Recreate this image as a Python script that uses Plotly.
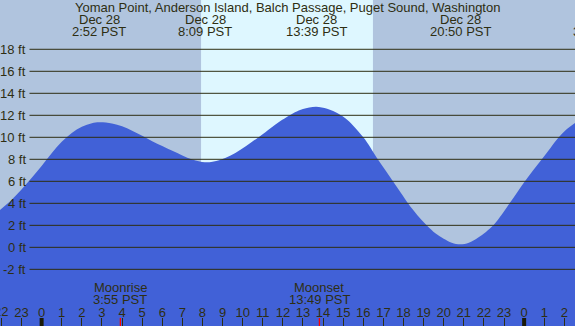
import plotly.graph_objects as go

# ---- data (hours relative to Dec 28 00:00 PST) ----
tide_hours = [-2.07, -1.5, -1.0, -0.5, 0.0, 0.5, 1.0, 1.5, 2.0, 2.5, 2.87, 3.5, 4.0, 4.5,
              5.05, 5.5, 6.0, 6.5, 7.0, 7.5, 8.12, 8.5, 8.87, 9.4, 9.87, 10.4, 10.86,
              11.4, 11.86, 12.3, 12.6, 13.0, 13.65, 14.2, 14.6, 15.09, 15.5, 16.0, 16.33,
              16.67, 17.1, 17.49, 17.9, 18.24, 18.7, 19.15, 19.6, 20.0, 20.4, 20.83,
              21.25, 21.7, 22.1, 22.47, 22.9, 23.26, 23.65, 24.04, 24.45, 24.88, 25.3,
              25.7, 26.1, 26.53]
tide_ft = [3.4, 4.3, 5.25, 6.3, 7.4, 8.55, 9.6, 10.4, 10.95, 11.27, 11.36, 11.25, 11.0, 10.6,
           10.1, 9.65, 9.2, 8.77, 8.35, 7.98, 7.73, 7.78, 7.94, 8.35, 8.85, 9.5, 10.1,
           10.85, 11.45, 11.95, 12.28, 12.58, 12.78, 12.6, 12.3, 11.75, 11.05, 10.0, 9.15,
           8.15, 7.0, 5.97, 4.87, 3.95, 2.9, 2.0, 1.25, 0.78, 0.42, 0.27,
           0.42, 0.88, 1.4, 2.0, 3.0, 3.95, 4.98, 6.0, 7.0, 8.0, 9.0,
           9.95, 10.7, 11.3]

extreme_hours = [2.867, 8.15, 13.65, 20.833, 27.75]
extreme_dates = ["Dec 28", "Dec 28", "Dec 28", "Dec 28", "Dec 29"]
extreme_times = ["2:52 PST", "8:09 PST", "13:39 PST", "20:50 PST", "3:45 PST"]

moon_hours = [3.917, 13.817]
moon_events = ["Moonrise", "Moonset"]
moon_times = ["3:55 PST", "13:49 PST"]

sunrise_hour = 7.93
sunset_hour = 16.48

midnight_hours = [0, 24]
hour_ticks = list(range(-2, 27))
hour_labels = [str(h % 24) for h in hour_ticks]
ft_ticks = [-2, 0, 2, 4, 6, 8, 10, 12, 14, 16, 18]
ft_labels = [f"{v} ft" for v in ft_ticks]

title = "Yoman Point, Anderson Island, Balch Passage, Puget Sound, Washington"

# ---- style ----
NIGHT = "#B0C4DE"
DAY = "#DEF7FF"
WATER = "#4161D7"
INK = "#2E2E12"
FONT = "Liberation Sans"
XR = [-2.07, 26.53]
YR = [-7.15, 22.48]
H = 326.0
fs = 13


def xfrac(h):
    return (h - XR[0]) / (XR[1] - XR[0])


fig = go.Figure()
fig.add_trace(go.Scatter(x=tide_hours, y=[YR[0] - 5] * len(tide_hours), mode="lines",
                         line=dict(width=0, color=WATER), hoverinfo="skip", showlegend=False))
fig.add_trace(go.Scatter(x=tide_hours, y=tide_ft, mode="lines",
                         line=dict(width=0, color=WATER, shape="spline", smoothing=1.0),
                         fill="tonexty", fillcolor=WATER, showlegend=False))

shapes = []
shapes.append(dict(type="rect", xref="x", yref="paper", x0=sunrise_hour, x1=sunset_hour, y0=0, y1=1,
                   fillcolor=DAY, line=dict(width=0), layer="below"))
for v in ft_ticks:
    shapes.append(dict(type="line", xref="paper", yref="y", x0=29.5 / 575, x1=1, y0=v, y1=v,
                       line=dict(color=INK, width=1), layer="above"))
for m in midnight_hours:
    shapes.append(dict(type="line", xref="x", yref="paper", x0=m, x1=m, y0=0, y1=8 / H,
                       line=dict(color="#1a1a08", width=4), layer="above"))
for m in moon_hours:
    shapes.append(dict(type="line", xref="x", yref="paper", x0=m, x1=m, y0=0, y1=8 / H,
                       line=dict(color="#FF0000", width=1.3), layer="above"))

ann = []
ann.append(dict(text=title, xref="paper", yref="paper", x=287 / 575, y=1 - 7.5 / H, showarrow=False,
                font=dict(family=FONT, size=fs, color=INK), xanchor="center", yanchor="middle"))
for hx, d, t in zip(extreme_hours, extreme_dates, extreme_times):
    ann.append(dict(text=d, xref="paper", yref="paper", x=xfrac(hx), y=1 - 19.5 / H, showarrow=False,
                    font=dict(family=FONT, size=fs, color=INK), xanchor="center", yanchor="middle"))
    ann.append(dict(text=t, xref="paper", yref="paper", x=xfrac(hx), y=1 - 31.5 / H, showarrow=False,
                    font=dict(family=FONT, size=fs, color=INK), xanchor="center", yanchor="middle"))
for v, lab in zip(ft_ticks, ft_labels):
    ann.append(dict(text=lab, xref="paper", yref="y", x=27.5 / 575, y=v, showarrow=False,
                    font=dict(family=FONT, size=fs, color=INK), xanchor="right", yanchor="middle"))
for hx, e, t in zip(moon_hours, moon_events, moon_times):
    ann.append(dict(text=e, xref="x", yref="paper", x=hx, y=1 - 287.5 / H, showarrow=False,
                    font=dict(family=FONT, size=fs, color=INK), xanchor="center", yanchor="middle"))
    ann.append(dict(text=t, xref="x", yref="paper", x=hx, y=1 - 299.5 / H, showarrow=False,
                    font=dict(family=FONT, size=fs, color=INK), xanchor="center", yanchor="middle"))
# first hour label, cut by the left edge (plotly hides clipped inside tick labels)
ann.append(dict(text=hour_labels[0], xref="x", yref="paper", x=hour_ticks[0], y=1 - 311.5 / H,
                showarrow=False, font=dict(family=FONT, size=fs, color=INK),
                xanchor="center", yanchor="middle"))

fig.update_layout(
    width=575, height=326, margin=dict(l=0, r=0, t=0, b=0),
    paper_bgcolor=NIGHT, plot_bgcolor="rgba(0,0,0,0)",
    shapes=shapes, annotations=ann, showlegend=False,
    xaxis=dict(range=XR, showgrid=False, zeroline=False, showline=False,
               tickmode="array", tickvals=hour_ticks, ticktext=hour_labels,
               ticks="inside", ticklen=8, tickwidth=1, tickcolor=INK,
               ticklabelposition="inside", ticklabelstandoff=-2,
               tickfont=dict(family=FONT, size=fs, color=INK)),
    yaxis=dict(range=YR, showgrid=False, zeroline=False, showticklabels=False, showline=False),
)

fig.write_html("out.html", config={"displayModeBar": False},
               post_script="document.body.style.margin='0';document.body.style.padding='0';")
